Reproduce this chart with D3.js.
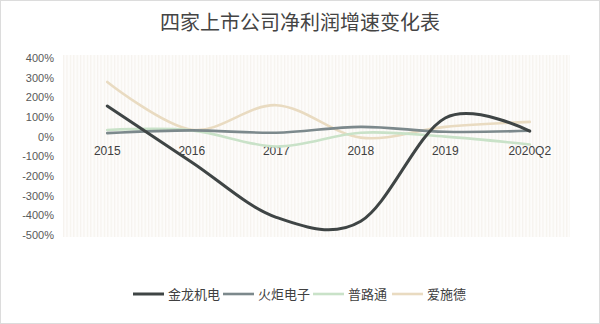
<!DOCTYPE html>
<html>
<head>
<meta charset="utf-8">
<script src="https://cdn.jsdelivr.net/npm/d3@7"></script>
<style>
  body { margin: 0; background: #fff; }
  svg { display: block; font-family: "Noto Sans CJK SC", "Noto Sans", sans-serif; }
</style>
</head>
<body>
<svg width="600" height="324"></svg>
<script>
// chart data
var categories = ["2015", "2016", "2017", "2018", "2019", "2020Q2"];
var seriesNames = ["金龙机电", "火炬电子", "普路通", "爱施德"];
var jinlong = [156, -130, -410, -430, 95, 28];
var huoju = [18, 32, 20, 50, 25, 30];
var pulutong = [34, 32, -50, 20, 0, -40];
var aishide = [278, 35, 160, -5, 50, 75];
var yTicks = [400, 300, 200, 100, 0, -100, -200, -300, -400, -500];
var colors = ["#3f4545", "#7c898c", "#c9e2c8", "#e9dbc1"];
var widths = [3, 2.6, 2.6, 2.6];

var svg = d3.select("svg"),
    margin = {top: 56, right: 30, bottom: 88, left: 63},
    width = 600 - margin.left - margin.right,
    height = 324 - margin.top - margin.bottom;

// outer frame
svg.append("rect")
  .attr("x", 0.5).attr("y", 0.5)
  .attr("width", 599).attr("height", 323)
  .attr("fill", "#fff")
  .attr("stroke", "#dcdcdc");

// striped plot background
var defs = svg.append("defs");
var pat = defs.append("pattern")
  .attr("id", "stripes")
  .attr("width", 3.4).attr("height", 10)
  .attr("patternUnits", "userSpaceOnUse");
pat.append("rect").attr("width", 3.4).attr("height", 10).attr("fill", "#fdfcfb");
pat.append("rect").attr("width", 1.2).attr("height", 10).attr("fill", "#f6f3ee");

svg.append("text")
  .attr("x", 300)
  .attr("y", 30)
  .attr("text-anchor", "middle")
  .attr("fill", "#444")
  .style("font-size", "20px")
  .text("四家上市公司净利润增速变化表");

var g = svg.append("g").attr("transform", "translate(" + margin.left + "," + margin.top + ")");

var x = d3.scaleBand()
  .domain(categories)
  .range([2, width + 2]);

var y = d3.scaleLinear()
  .domain([-500, 400])
  .range([179, 2]);

g.append("rect")
  .attr("width", width)
  .attr("height", height + 2)
  .attr("y", -1)
  .attr("fill", "url(#stripes)");

// y axis labels
var yAxis = g.append("g")
  .attr("transform", "translate(-6,0)")
  .call(d3.axisLeft(y).tickValues(yTicks).tickSize(0).tickFormat(function(d) { return d + "%"; }));
yAxis.select(".domain").remove();
yAxis.selectAll("text")
  .style("fill", "#595959")
  .style("font-size", "11px")
  .style("font-family", "Liberation Sans, Arial, sans-serif");

// x labels sit just under the zero line
var xAxis = g.append("g")
  .attr("transform", "translate(0," + y(0) + ")")
  .call(d3.axisBottom(x).tickSize(0).tickPadding(10));
xAxis.select(".domain").remove();
xAxis.selectAll("text")
  .style("fill", "#404040")
  .style("font-size", "12px")
  .style("font-family", "Liberation Sans, Arial, sans-serif");

var line = d3.line()
  .x(function(d, i) { return x(categories[i]) + x.bandwidth() / 2; })
  .y(function(d) { return y(d); })
  .curve(d3.curveCatmullRom.alpha(0));

var allSeries = [jinlong, huoju, pulutong, aishide];
// draw back to front so the dark line stays visible
[3, 2, 1, 0].forEach(function(i) {
  g.append("path")
    .datum(allSeries[i])
    .attr("d", line)
    .attr("fill", "none")
    .attr("stroke", colors[i])
    .attr("stroke-width", widths[i])
    .attr("stroke-linecap", "round");
});

// legend
var legendX = [133, 223, 313, 392];
var legend = svg.append("g")
  .selectAll("g")
  .data(seriesNames)
  .enter().append("g")
  .attr("transform", function(d, i) { return "translate(" + legendX[i] + ",294)"; });

legend.append("line")
  .attr("x1", 0).attr("x2", 31)
  .attr("stroke", function(d, i) { return colors[i]; })
  .attr("stroke-width", function(d, i) { return widths[i]; });

legend.append("text")
  .attr("x", 35)
  .attr("dy", "0.35em")
  .attr("fill", "#404040")
  .style("font-size", "13px")
  .text(function(d) { return d; });
</script>
</body>
</html>
